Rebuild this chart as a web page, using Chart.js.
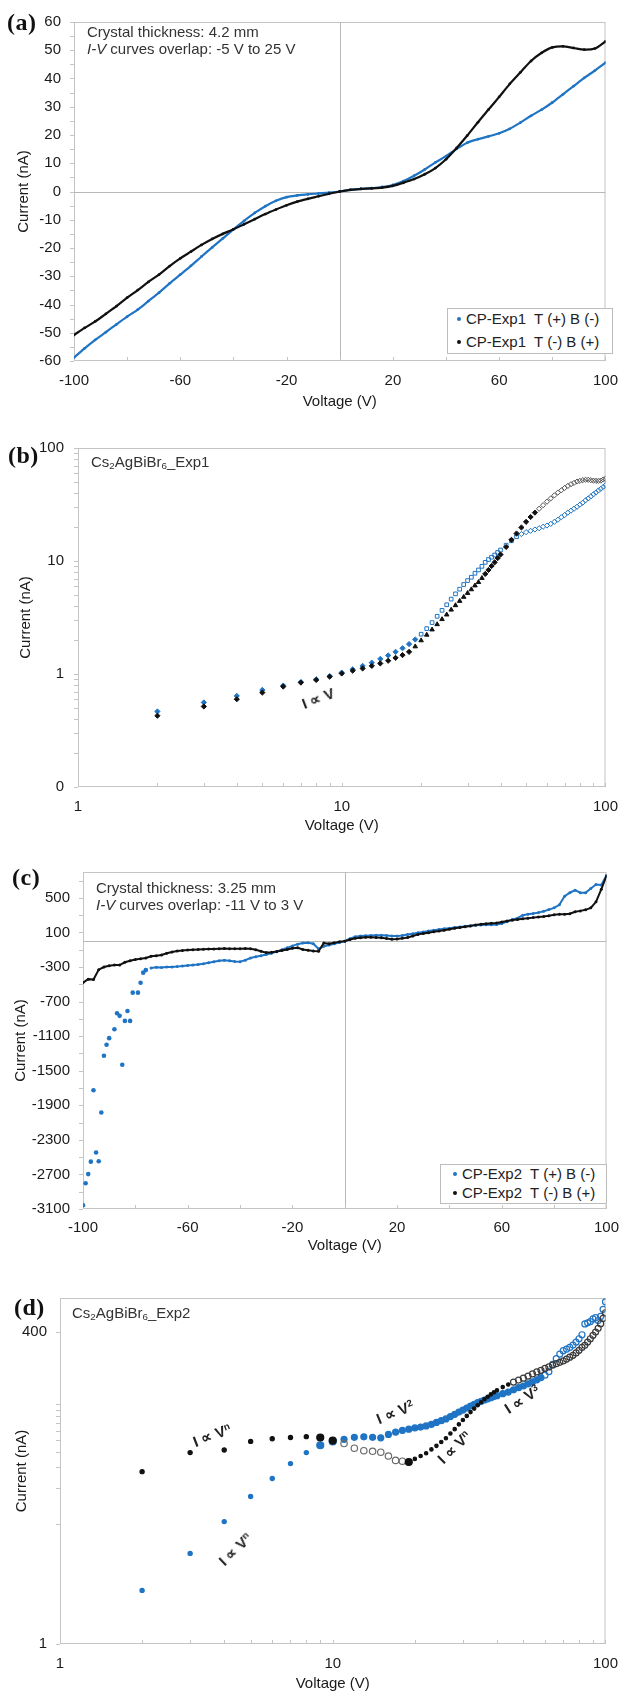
<!DOCTYPE html>
<html>
<head>
<meta charset="utf-8">
<script src="https://cdn.jsdelivr.net/npm/chart.js@4.4.1/dist/chart.umd.min.js"></script>
<style>
  body { margin: 0; background: #fff; width: 629px; height: 1700px; position: relative; overflow: hidden;
         font-family: "Liberation Sans", Arial, sans-serif; color: #222; }
  canvas { position: absolute; left: 0; }
  .tag { position: absolute; font-family: "Liberation Serif", "Times New Roman", serif; font-weight: bold; line-height: 1; color: #111; font-size: 24px; letter-spacing: 0.5px; }
  .note { position: absolute; font-size: 15px; line-height: 17px; color: #333; white-space: nowrap; }
  .law { position: absolute; font-size: 15px; font-weight: bold; color: #222; white-space: nowrap; line-height: 1; }
  .legend { position: absolute; border: 1px solid #bdbdbd; background: #fff; font-size: 15px; color: #222; box-sizing: border-box; }
  .legend .row { position: absolute; white-space: pre; line-height: 18px; }
  .legend .dot { position: absolute; width: 4px; height: 4px; border-radius: 50%; }
  sup { font-size: 65%; vertical-align: 0.5em; line-height: 0; }
  sub { font-size: 65%; vertical-align: -0.2em; line-height: 0; }
</style>
</head>
<body>
<canvas id="chartA" width="629" height="420" style="top:0px"></canvas>
<canvas id="chartB" width="629" height="420" style="top:425px"></canvas>
<canvas id="chartC" width="629" height="410" style="top:850px"></canvas>
<canvas id="chartD" width="629" height="425" style="top:1275px"></canvas>

<div class="tag" style="left:7px; top:10px">(a)</div>
<div class="tag" style="left:8px; top:443px">(b)</div>
<div class="tag" style="left:12px; top:865px">(c)</div>
<div class="tag" style="left:14px; top:1295px">(d)</div>

<div class="note" style="left:87px; top:23px">Crystal thickness: 4.2 mm<br><i>I-V</i> curves overlap: -5 V to 25 V</div>
<div class="note" style="left:96px; top:879px">Crystal thickness: 3.25 mm<br><i>I-V</i> curves overlap: -11 V to 3 V</div>
<div class="note" style="left:91px; top:453px">Cs<sub>2</sub>AgBiBr<sub>6</sub>_Exp1</div>
<div class="note" style="left:72px; top:1304px">Cs<sub>2</sub>AgBiBr<sub>6</sub>_Exp2</div>

<div class="law" style="left:318px; top:698px; transform:translate(-50%,-50%) rotate(-21deg)">I &prop; V</div>
<div class="law" style="left:212px; top:1435px; transform:translate(-50%,-50%) rotate(-21deg)">I &prop; V<sup>n</sup></div>
<div class="law" style="left:395px; top:1412px; transform:translate(-50%,-50%) rotate(-22deg)">I &prop; V<sup>2</sup></div>
<div class="law" style="left:454px; top:1447px; transform:translate(-50%,-50%) rotate(-44deg)">I &prop; V<sup>n</sup></div>
<div class="law" style="left:522px; top:1399px; transform:translate(-50%,-50%) rotate(-33deg)">I &prop; V<sup>3</sup></div>
<div class="law" style="left:235px; top:1549px; transform:translate(-50%,-50%) rotate(-44deg)">I &prop; V<sup>n</sup></div>

<div class="legend" id="legendA" style="left:447px; top:308px; width:166px; height:46px"></div>
<div class="legend" id="legendC" style="left:440px; top:1164px; width:167px; height:40px"></div>

<script>
const FONT = '"Liberation Sans", Arial, sans-serif';
const INK = '#1a1a1a';
const BLUE = '#1f74c4';
const BLACK = '#111111';
const CLEAR = 'rgba(0,0,0,0)';

// ---- (a) CP-Exp1, linear I-V ----
const voltsA = [
  -100, -96, -92, -88, -84, -80, -76, -72, -68, -64,
  -60, -56, -52, -48, -44, -40, -36, -32, -28, -24,
  -20, -16, -12, -8, -4, 0, 4, 8, 12, 16,
  20, 24, 28, 32, 36, 40, 44, 48, 52, 56,
  60, 64, 68, 72, 76, 80, 84, 88, 92, 96,
  100
];
const currentA_TpBm = [
  -58.8, -55.5, -52.5, -49.8, -47.0, -44.3, -41.8, -38.8, -35.8, -32.5,
  -29.4, -26.3, -23.0, -19.8, -16.6, -13.4, -10.4, -7.6, -5.2, -3.3,
  -2.0, -1.4, -1.0, -0.7, -0.4, 0, 0.6, 0.9, 1.2, 1.6,
  2.3, 3.7, 5.6, 7.8, 10.3, 12.5, 15.1, 17.3, 18.5, 19.5,
  20.6, 22.2, 24.4, 26.8, 29.0, 31.5, 34.4, 37.3, 40.2, 42.8,
  45.6
];
const currentA_TmBp = [
  -50.8, -48.3, -46.0, -43.3, -40.6, -37.6, -34.9, -32.0, -29.4, -26.4,
  -23.7, -21.3, -18.9, -16.8, -15.0, -13.4, -11.6, -9.8, -8.0, -6.4,
  -4.9, -3.6, -2.6, -1.7, -0.8, 0, 0.6, 0.9, 1.1, 1.4,
  2.0, 3.1, 4.4, 6.1, 8.3, 11.4, 15.4, 19.8, 24.5, 29.0,
  33.5, 38.1, 42.2, 46.2, 49.1, 51.0, 51.4, 50.8, 50.2, 50.6,
  53.1
];
const labelsExp1 = ['CP-Exp1  T (+) B (-)', 'CP-Exp1  T (-) B (+)'];

// ---- (b) Exp1, log-log ----
const voltsB = [
  2, 3, 4, 5, 6, 7, 8, 9, 10, 11,
  12, 13, 14, 15, 16, 17, 18, 19, 20, 21,
  22, 23, 24, 25, 26, 27, 28, 29, 30, 31,
  32, 33, 34, 35, 36, 37, 38, 39, 40,
  42, 44, 46, 48, 50, 52, 54, 56, 58, 60,
  62, 64, 66, 68, 70, 72, 74, 76, 78, 80,
  82, 84, 86, 88, 90, 92, 94, 96, 98, 100
];
const currentB_TpBm = [
  0.466, 0.560, 0.640, 0.723, 0.790, 0.850, 0.898, 0.960, 1.03, 1.10,
  1.18, 1.26, 1.36, 1.46, 1.57, 1.69, 1.84, 2.02, 2.25, 2.52,
  2.85, 3.24, 3.66, 4.10, 4.60, 5.12, 5.63, 6.19, 6.71, 7.18,
  7.79, 8.33, 8.97, 9.73, 10.3, 10.8, 11.3, 11.9, 12.5,
  13.8, 15.1, 16.4, 17.3, 18.0, 18.5, 19.0, 19.5, 20.1, 20.6,
  21.3, 22.2, 23.2, 24.4, 25.5, 26.8, 27.9, 29.0, 30.2, 31.5,
  32.8, 34.4, 35.8, 37.3, 38.9, 40.4, 42.1, 43.6, 45.2, 46.9
];
const currentB_TmBp = [
  0.427, 0.516, 0.598, 0.685, 0.774, 0.839, 0.885, 0.947, 1.01, 1.07,
  1.12, 1.18, 1.24, 1.31, 1.39, 1.47, 1.57, 1.75, 1.98, 2.22,
  2.47, 2.75, 3.05, 3.35, 3.70, 4.05, 4.42, 4.80, 5.20, 5.60,
  6.06, 6.49, 7.05, 7.68, 8.33, 9.03, 9.73, 10.6, 11.4,
  13.3, 15.4, 17.5, 19.8, 22.2, 24.5, 26.8, 29.0, 31.2, 33.5,
  35.8, 38.1, 40.3, 42.2, 44.3, 46.2, 47.8, 49.1, 50.5, 51.2,
  51.9, 52.3, 52.3, 51.9, 51.5, 51.2, 51.2, 51.5, 52.6, 53.5
];

// ---- (c) CP-Exp2, linear I-V ----
const voltsC_TpBm = [
  -100, -99, -98, -97, -96, -95, -94, -93, -92, -91,
  -90, -88, -87, -86, -85, -84, -83, -82, -81, -79,
  -78, -77, -76,
  -74, -72, -70, -68, -66, -64, -62, -60, -58, -56,
  -54, -52, -50, -48, -46, -44, -42, -40, -38, -36,
  -34, -32, -30, -28, -26, -24, -22, -20, -18, -16,
  -14, -12, -10, -8, -6, -4, -2, 0, 2, 4,
  6, 8, 10, 12, 14, 16, 18, 20, 22, 24,
  26, 28, 30, 32, 34, 36, 38, 40, 42, 44,
  46, 48, 50, 52, 54, 56, 58, 60, 62, 64,
  66, 68, 70, 72, 74, 76, 78, 80, 82, 84,
  86, 88, 90, 92, 94, 96, 98, 100
];
const currentC_TpBm = [
  -3056, -2802, -2696, -2552, -1726, -2446, -2548, -1983, -1327, -1200,
  -1123, -1019, -835, -865, -1431, -923, -808, -923, -596, -596,
  -481, -365, -335,
  -310, -302, -305, -300, -298, -295, -288, -283, -277, -270,
  -262, -250, -238, -226, -222, -228, -236, -238, -220, -195,
  -180, -168, -155, -140, -122, -100, -78, -55, -35, -22,
  -18, -30, -90, -60, -45, -30, -15, 0, 28, 50,
  58, 62, 66, 68, 68, 65, 60, 58, 66, 76,
  86, 96, 106, 117, 127, 136, 143, 150, 158, 164,
  172, 178, 184, 187, 189, 190, 193, 205, 225, 250,
  265, 300, 312, 320, 330, 345, 365, 385, 420, 520,
  560, 590, 560, 560, 610, 655, 650, 760
];
const voltsC_TmBp = [
  -100, -98, -96, -94, -92, -90, -88, -86, -84, -82,
  -80, -78, -76, -74, -72, -70, -68, -66, -64, -62,
  -60, -58, -56, -54, -52, -50, -48, -46, -44, -42,
  -40, -38, -36, -34, -32, -30, -28, -26, -24, -22,
  -20, -18, -16, -14, -12, -10, -8, -6, -4, -2,
  0, 2, 4, 6, 8, 10, 12, 14, 16, 18,
  20, 22, 24, 26, 28, 30, 32, 34, 36, 38,
  40, 42, 44, 46, 48, 50, 52, 54, 56, 58,
  60, 62, 64, 66, 68, 70, 72, 74, 76, 78,
  80, 82, 84, 86, 88, 90, 92, 94, 96, 98,
  100
];
const currentC_TmBp = [
  -480, -440, -445, -330, -300, -285, -275, -277, -245, -228,
  -212, -205, -195, -175, -168, -160, -140, -125, -115, -108,
  -104, -100, -97, -94, -92, -90, -88, -86, -87, -88,
  -88, -86, -88, -100, -118, -133, -130, -120, -108, -96,
  -82, -78, -96, -105, -113, -118, -22, -30, -20, -6,
  0, 18, 32, 40, 44, 46, 43, 38, 30, 22,
  24, 32, 42, 60, 78, 88, 98, 108, 117, 127,
  138, 148, 158, 167, 176, 188, 196, 202, 206, 211,
  222, 232, 243, 251, 258, 265, 272, 279, 285, 293,
  305, 310, 312, 318, 340, 350, 362, 385, 455, 600,
  755
];
const labelsExp2 = ['CP-Exp2  T (+) B (-)', 'CP-Exp2  T (-) B (+)'];

// ---- (d) Exp2, log-log ----
const voltsD = [
  2, 3, 4, 5, 6, 7, 8, 9, 10, 11,
  12, 13, 14, 15, 16, 17, 18, 19, 20, 21,
  22, 23, 24, 25, 26, 27, 28, 29, 30, 31,
  32, 33, 34, 35, 36, 37, 38, 39, 40,
  42, 44, 46, 48, 50, 52, 54, 56, 58, 60,
  62, 64, 66, 68, 70, 72, 74, 76, 78, 80,
  82, 84, 86, 88, 90, 92, 94, 96, 98, 100
];
const currentD_TpBm = [
  2.8, 5.7, 10.5, 17, 24, 32, 39.5, 45.5, 49, 51,
  53, 53.5, 53, 52.5, 56, 58.5, 60.5, 62, 63.5, 64.5,
  66, 68, 70.5, 73, 75.5, 79, 82.5, 86, 89.5, 93,
  96.5, 100, 103, 106, 108.5, 111, 113.5, 116, 118,
  122.5, 126.5, 132, 137.5, 142, 148, 154, 160, 167, 175,
  187, 215, 240, 262, 280, 288, 298, 312, 330, 352,
  380, 468, 478, 490, 515, 528, 500, 540, 620, 715
];
const currentD_TmBp = [
  27.4, 39.5, 41.5, 49, 51.6, 52.8, 53.7, 52.8, 49.8, 47,
  43, 41, 40.5, 39.8, 37, 34, 33.5, 33, 35, 37,
  39, 42, 45, 48.5, 52, 57, 62, 68, 74, 80,
  86, 92, 98, 104, 110, 115.5, 121, 126, 131,
  139, 146, 153, 159, 165, 172, 179, 186, 192, 199,
  205, 212, 218, 224, 230, 238, 247, 256, 268, 282,
  298, 310, 330, 352, 376, 400, 430, 470, 520, 580
];

// ---- axis ticks ----
const ticksVoltLin = [-100, -80, -60, -40, -20, 0, 20, 40, 60, 80, 100];
const labelsVoltLin = [-100, -60, -20, 20, 60, 100];
const ticksCurrentA = [-60, -55, -50, -45, -40, -35, -30, -25, -20, -15, -10, -5, 0, 5, 10, 15, 20, 25, 30, 35, 40, 45, 50, 55, 60];
const labelsCurrentA = [-60, -50, -40, -30, -20, -10, 0, 10, 20, 30, 40, 50, 60];
const ticksCurrentC = [-3100, -2900, -2700, -2500, -2300, -2100, -1900, -1700, -1500, -1300, -1100, -900, -700, -500, -300, -100, 100, 300, 500, 700];
const labelsCurrentC = [-3100, -2700, -2300, -1900, -1500, -1100, -700, -300, 100, 500];
const ticksVoltLog = [1, 2, 3, 4, 5, 6, 7, 8, 9, 10, 20, 30, 40, 50, 60, 70, 80, 90, 100];
const labelsVoltLog = [1, 10, 100];
const ticksCurrentB = [0.1, 0.2, 0.3, 0.4, 0.5, 0.6, 0.7, 0.8, 0.9, 1, 2, 3, 4, 5, 6, 7, 8, 9, 10, 20, 30, 40, 50, 60, 70, 80, 90, 100];
const labelsCurrentB = [0.1, 1, 10, 100];
const ticksCurrentD = [1, 10, 20, 30, 40, 50, 60, 70, 80, 90, 100, 400];
const labelsCurrentD = [1, 400];

Chart.defaults.font.family = FONT;
Chart.defaults.font.size = 15;
Chart.defaults.color = INK;

function pairs(xs, ys) {
  return xs.map((x, i) => ({ x: x, y: ys[i] }));
}

function vx(ctx) {
  return ctx.raw ? ctx.raw.x : 0;
}

// plot frame, zero lines and small tick marks, drawn under the data
const framePlugin = {
  id: 'frame',
  beforeDatasetsDraw(chart, args, opts) {
    const { ctx, chartArea: a } = chart;
    const x = chart.scales.x, y = chart.scales.y;
    ctx.save();
    ctx.lineWidth = 1;
    ctx.strokeStyle = '#c4c4c4';
    ctx.strokeRect(a.left + 0.5, a.top + 0.5, a.width - 1, a.height - 1);
    if (opts.zero) {
      const px = Math.round(x.getPixelForValue(0)) + 0.5;
      const py = Math.round(y.getPixelForValue(0)) + 0.5;
      ctx.strokeStyle = '#b8b8b8';
      ctx.beginPath();
      ctx.moveTo(px, a.top); ctx.lineTo(px, a.bottom);
      ctx.moveTo(a.left, py); ctx.lineTo(a.right, py);
      ctx.stroke();
    }
    ctx.strokeStyle = '#c4c4c4';
    ctx.beginPath();
    x.ticks.forEach(t => {
      const p = Math.round(x.getPixelForValue(t.value)) + 0.5;
      ctx.moveTo(p, a.bottom); ctx.lineTo(p, a.bottom - 4);
    });
    y.ticks.forEach(t => {
      const p = Math.round(y.getPixelForValue(t.value)) + 0.5;
      ctx.moveTo(a.left - 4, p); ctx.lineTo(a.left, p);
    });
    ctx.stroke();
    ctx.restore();
  }
};

function axis(o) {
  return {
    type: o.type,
    min: o.min,
    max: o.max,
    grid: { display: false, drawTicks: false },
    border: { display: false },
    afterBuildTicks: s => { s.ticks = o.ticks.map(v => ({ value: v })); },
    afterFit: s => { if (o.width) s.width = o.width; else s.height = o.height; },
    ticks: {
      autoSkip: false, maxRotation: 0, minRotation: 0, padding: o.pad, color: INK,
      callback: v => (o.labels.includes(v) ? (o.fmt ? o.fmt(v) : String(v)) : '')
    },
    title: { display: true, text: o.title, color: INK, padding: 0 }
  };
}

function baseOptions(padding, xAxis, yAxis, zero) {
  return {
    responsive: false,
    animation: false,
    layout: { padding: padding },
    plugins: { legend: { display: false }, tooltip: { enabled: false }, frame: { zero: zero } },
    scales: { x: xAxis, y: yAxis }
  };
}

// (a)
new Chart(document.getElementById('chartA'), {
  type: 'scatter',
  plugins: [framePlugin],
  data: {
    datasets: [
      { label: labelsExp1[1], data: pairs(voltsA, currentA_TmBp), order: 0, showLine: true, tension: 0.3,
        borderColor: BLACK, borderWidth: 2.2, pointRadius: 1.4, pointBackgroundColor: BLACK, pointBorderWidth: 0 },
      { label: labelsExp1[0], data: pairs(voltsA, currentA_TpBm), order: 1, showLine: true, tension: 0.3,
        borderColor: BLUE, borderWidth: 2.2, pointRadius: 1.4, pointBackgroundColor: BLUE, pointBorderWidth: 0 }
    ]
  },
  options: baseOptions({ left: 15, top: 15, right: 13, bottom: 9 },
    axis({ type: 'linear', min: -100, max: 100, ticks: ticksVoltLin, labels: labelsVoltLin, height: 50, pad: 11, title: 'Voltage (V)' }),
    axis({ type: 'linear', min: -60, max: 60, ticks: ticksCurrentA, labels: labelsCurrentA, width: 59, pad: 13, title: 'Current (nA)' }),
    true)
});

// (b)
new Chart(document.getElementById('chartB'), {
  type: 'scatter',
  plugins: [framePlugin],
  data: {
    datasets: [
      { label: labelsExp1[1], data: pairs(voltsB, currentB_TmBp), order: 0,
        pointStyle: c => (vx(c) >= 19 && vx(c) < 35 ? 'triangle' : 'rectRot'),
        pointRadius: 2.6, pointBorderWidth: 1,
        pointBackgroundColor: c => (vx(c) >= 55 ? CLEAR : BLACK),
        pointBorderColor: c => (vx(c) >= 55 ? '#555555' : BLACK) },
      { label: labelsExp1[0], data: pairs(voltsB, currentB_TpBm), order: 1,
        pointStyle: c => (vx(c) >= 20 && vx(c) < 48 ? 'rect' : 'rectRot'),
        pointRadius: 2.6, pointBorderWidth: 1,
        pointBackgroundColor: c => (vx(c) >= 20 ? CLEAR : BLUE),
        pointBorderColor: BLUE }
    ]
  },
  options: baseOptions({ left: 17, top: 21, right: 17, bottom: 10 },
    axis({ type: 'logarithmic', min: 1, max: 100, ticks: ticksVoltLog, labels: labelsVoltLog, height: 48, pad: 11, title: 'Voltage (V)' }),
    axis({ type: 'logarithmic', min: 0.1, max: 100, ticks: ticksCurrentB, labels: labelsCurrentB, width: 61, pad: 14, title: 'Current (nA)',
           fmt: v => String(Math.round(v)) }),
    false)
});

// (c)
new Chart(document.getElementById('chartC'), {
  type: 'scatter',
  plugins: [framePlugin],
  data: {
    datasets: [
      { label: labelsExp2[1], data: pairs(voltsC_TmBp, currentC_TmBp), order: 0, showLine: true,
        borderColor: BLACK, borderWidth: 2, pointRadius: 1.5, pointBackgroundColor: BLACK, pointBorderWidth: 0 },
      { label: labelsExp2[0], data: pairs(voltsC_TpBm, currentC_TpBm), order: 1, showLine: true,
        borderColor: BLUE, borderWidth: 2,
        segment: { borderColor: s => (s.p0.parsed.x < -75 ? CLEAR : undefined) },
        pointRadius: c => (vx(c) < -75 ? 2.3 : 1.5), pointBackgroundColor: BLUE, pointBorderWidth: 0 }
    ]
  },
  options: baseOptions({ left: 12, top: 22, right: 17, bottom: 5 },
    axis({ type: 'linear', min: -100, max: 100, ticks: ticksVoltLin, labels: labelsVoltLin, height: 46, pad: 10, title: 'Voltage (V)' }),
    axis({ type: 'linear', min: -3100, max: 800, ticks: ticksCurrentC, labels: labelsCurrentC, width: 71, pad: 13, title: 'Current (nA)' }),
    true)
});

// (d)
new Chart(document.getElementById('chartD'), {
  type: 'scatter',
  plugins: [framePlugin],
  data: {
    datasets: [
      { label: labelsExp2[1], data: pairs(voltsD, currentD_TmBp), order: 0, pointStyle: 'circle', pointBorderWidth: 1.2,
        pointRadius: c => {
          const v = vx(c);
          if (v === 9 || v === 10 || v === 19) return 3.5;
          if (v >= 11 && v <= 18) return 3.2;
          if (v >= 46) return 3;
          if (v >= 20) return 1.7;
          return 2.1;
        },
        pointBackgroundColor: c => ((vx(c) >= 11 && vx(c) <= 18) || vx(c) >= 46 ? CLEAR : BLACK),
        pointBorderColor: c => (vx(c) >= 11 && vx(c) <= 18 ? '#6a6a6a' : (vx(c) >= 46 ? '#3a3a3a' : BLACK)) },
      { label: labelsExp2[0], data: pairs(voltsD, currentD_TpBm), order: 1, pointStyle: 'circle', pointBorderWidth: 1.2,
        pointRadius: c => (vx(c) === 9 || vx(c) === 10 ? 3.5 : (vx(c) < 9 ? 2.1 : 3)),
        pointBackgroundColor: c => (vx(c) >= 60 ? CLEAR : BLUE),
        pointBorderColor: BLUE }
    ]
  },
  options: baseOptions({ left: 13, top: 23, right: 18, bottom: 7 },
    axis({ type: 'logarithmic', min: 1, max: 100, ticks: ticksVoltLog, labels: labelsVoltLog, height: 49, pad: 11, title: 'Voltage (V)' }),
    axis({ type: 'logarithmic', min: 1, max: 770, ticks: ticksCurrentD, labels: labelsCurrentD, width: 47, pad: 13, title: 'Current (nA)' }),
    false)
});

// HTML legends inside the plot areas
function fillLegend(id, labels, rowTops, dotLeft, textLeft) {
  const box = document.getElementById(id);
  [BLUE, BLACK].forEach((color, i) => {
    const dot = document.createElement('div');
    dot.className = 'dot';
    dot.style.background = color;
    dot.style.left = dotLeft + 'px';
    dot.style.top = (rowTops[i] + 7) + 'px';
    box.appendChild(dot);
    const row = document.createElement('div');
    row.className = 'row';
    row.textContent = labels[i];
    row.style.left = textLeft + 'px';
    row.style.top = rowTops[i] + 'px';
    box.appendChild(row);
  });
}
fillLegend('legendA', labelsExp1, [1, 24], 9, 18);
fillLegend('legendC', labelsExp2, [0, 19], 12, 21);
</script>
</body>
</html>
